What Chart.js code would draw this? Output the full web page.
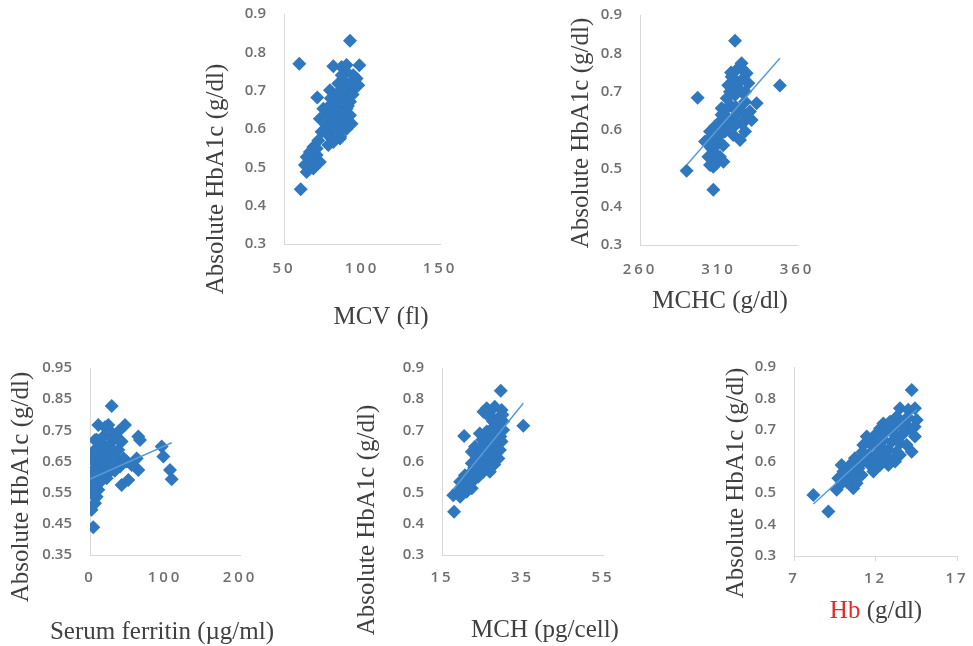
<!DOCTYPE html>
<html>
<head>
<meta charset="utf-8">
<script src="https://cdn.jsdelivr.net/npm/chart.js"></script>
<style>
  html, body { margin: 0; padding: 0; background: #fff; }
  #wrap { position: relative; width: 973px; height: 646px; }
  #wrap canvas { position: absolute; left: 0; top: 0; }
</style>
</head>
<body>
<div id="wrap">
  <canvas id="mcv" width="973" height="646"></canvas>
  <canvas id="mchc" width="973" height="646"></canvas>
  <canvas id="ferritin" width="973" height="646"></canvas>
  <canvas id="mch" width="973" height="646"></canvas>
  <canvas id="hb" width="973" height="646"></canvas>
</div>
<script>
// [x, absolute HbA1c] pairs
var mcvPoints = [[92.3,0.83],[59.8,0.77],[81.6,0.764],[98.3,0.766],[71.3,0.682],[60.7,0.443],
  [86.9,0.762],[90.1,0.749],[94.4,0.74],[97.6,0.714],[88,0.727],[84.8,0.719],[92.3,0.719],[79.5,0.701],
  [82.7,0.688],[75.2,0.653],[79.5,0.662],[83.7,0.671],[88,0.68],[92.3,0.671],[90.1,0.653],[85.9,0.645],
  [79.5,0.636],[73,0.627],[92.3,0.636],[93.3,0.614],[88,0.619],[81.6,0.619],[77.3,0.61],[74.1,0.593],
  [78.4,0.584],[84.8,0.593],[88,0.601],[81.6,0.566],[78.4,0.558],[85.9,0.575],[83.7,0.61],[68.8,0.553],
  [66.6,0.54],[64.5,0.527],[70.9,0.532],[73,0.514],[66.6,0.514],[63.4,0.506],[68.8,0.497],[64.5,0.488],
  [70.9,0.549],[90.1,0.767],[93.3,0.697],[96.5,0.732],[91.2,0.701],[90.1,0.627],[83.7,0.636],
  [86,0.7],[84,0.66],[86,0.62],[80,0.6],[76,0.63],[82,0.65],[89,0.71],[94,0.69],[95,0.72],[87,0.74],
  [91,0.66],[77,0.59],[72,0.57],[70,0.52],[67,0.53],[80,0.68],[90,0.6],[86,0.58]];

var mchcPoints = [[320.5,0.833],[296.7,0.684],[349.1,0.716],[289.7,0.494],[306.7,0.444],[313.1,0.517],
  [324.7,0.774],[321.5,0.757],[327.9,0.748],[318.4,0.739],[325.8,0.735],[316.2,0.717],[322.6,0.722],
  [329,0.722],[317.3,0.7],[324.7,0.7],[320.5,0.691],[315.2,0.683],[326.9,0.674],[334.3,0.67],[312,0.657],
  [318.4,0.661],[323.7,0.652],[330,0.648],[314.1,0.639],[320.5,0.635],[331.1,0.626],[310.9,0.622],
  [317.3,0.617],[324.7,0.617],[307.7,0.609],[304.6,0.596],[314.1,0.596],[326.9,0.596],[323.7,0.574],
  [319.4,0.587],[309.9,0.583],[303.5,0.574],[309.9,0.565],[305.6,0.552],[301.4,0.57],[307.7,0.539],
  [303.5,0.53],[310.9,0.53],[304.6,0.509],[308.8,0.513],[306.7,0.504],
  [319,0.72],[322,0.7],[327,0.7],[316,0.66],[321,0.66],[315,0.62],[320,0.61],[312,0.6],[307,0.58],
  [313,0.56],[306,0.53],[328,0.64],[326,0.62],[318,0.75],[325,0.76],[312,0.64]];

var ferritinPoints = [[28.9,0.828],[4.4,0.439],[46.7,0.767],[64.4,0.73],[66.7,0.719],[95.6,0.698],
  [97.8,0.666],[106.7,0.623],[108.9,0.593],[64.4,0.623],[62.2,0.66],[42.2,0.575],[51.1,0.591],[55.6,0.639],
  [11.1,0.767],[24.4,0.767],[37.8,0.746],[6.7,0.719],[17.8,0.73],[31.1,0.719],[42.2,0.714],[4.4,0.682],
  [15.6,0.687],[26.7,0.676],[37.8,0.687],[8.9,0.65],[20,0.655],[31.1,0.65],[40,0.634],[4.4,0.623],
  [15.6,0.623],[26.7,0.618],[2.2,0.591],[11.1,0.585],[22.2,0.596],[2.2,0.548],[8.9,0.537],[6.7,0.516],
  [2.2,0.495],[0,0.569],[11.1,0.559],[48.9,0.65],[20,0.7],[33,0.68],[13,0.61],[28,0.64],[5,0.65],
  [3,0.6],[7,0.58],[12,0.64],[18,0.66],[22,0.62],[25,0.7],[30,0.74],[35,0.66],[14,0.7],[9,0.72],
  [3,0.66],[5,0.54],[10,0.68],[33,0.62],[45,0.66],[38,0.72],[20,0.76],[8,0.62],[16,0.59]];

var mchPoints = [[29.6,0.827],[35.2,0.715],[20.5,0.682],[18,0.439],[17.8,0.492],
  [26.1,0.771],[28.1,0.776],[29.8,0.765],[26.9,0.749],[29.4,0.744],[27.7,0.728],[30.2,0.728],[25.3,0.76],
  [24.4,0.69],[26.1,0.696],[28.1,0.701],[30.2,0.701],[29,0.68],[26.9,0.669],[29.8,0.664],[27.7,0.653],
  [25.3,0.653],[23.2,0.647],[22.4,0.631],[24.4,0.631],[26.9,0.626],[29.4,0.637],[29,0.61],[26.1,0.61],
  [23.6,0.61],[22.4,0.594],[24.8,0.589],[27.3,0.594],[25.3,0.567],[22.8,0.567],[26.9,0.567],[24,0.551],
  [21.5,0.556],[20.7,0.556],[19.5,0.535],[21.5,0.53],[20.3,0.514],[22.4,0.514],[19,0.508],[21.1,0.503],
  [19.5,0.487],
  [27,0.74],[28.5,0.72],[27,0.7],[28,0.67],[25,0.67],[26,0.64],[28,0.62],[24,0.6],[26,0.58],[23,0.58],
  [21,0.54],[22.5,0.535],[20,0.52],[30,0.75],[28,0.59],[24.5,0.57],[29.5,0.68]];

var hbPoints = [[14.22,0.827],[8.19,0.494],[9.11,0.441],[9.62,0.51],[9.92,0.589],[14.22,0.631],
  [13.5,0.769],[14.01,0.764],[14.42,0.769],[13.3,0.742],[13.91,0.737],[14.53,0.732],[12.89,0.726],
  [13.5,0.716],[12.48,0.721],[14.12,0.705],[14.42,0.679],[13.71,0.689],[13.2,0.684],[12.68,0.695],
  [12.28,0.705],[11.46,0.679],[11.97,0.684],[12.48,0.668],[12.99,0.663],[13.5,0.658],[13.91,0.652],
  [11.25,0.652],[11.76,0.652],[12.28,0.647],[12.79,0.637],[13.3,0.631],[11.56,0.621],[12.07,0.615],
  [12.58,0.61],[13.09,0.605],[13.5,0.621],[10.74,0.61],[11.25,0.6],[10.44,0.589],[10.95,0.578],
  [11.66,0.589],[12.28,0.589],[12.79,0.589],[10.03,0.568],[10.54,0.557],[11.15,0.557],[11.87,0.568],
  [10.23,0.536],[10.84,0.531],[9.72,0.547],[9.92,0.531],[10.64,0.515],
  [13,0.7],[13.8,0.71],[12.5,0.69],[11.8,0.66],[12.2,0.63],[11.2,0.63],[12.8,0.61],[13.3,0.68],
  [10.8,0.57],[11.5,0.6],[10.4,0.55],[11,0.6],[12.5,0.64],[14.4,0.71],[14,0.74],[11.9,0.6],[13.2,0.6]];

// linear trendline end points
var mchcTrend = [[289.7,0.509],[349.1,0.787]];
var ferritinTrend = [[0,0.594],[109,0.71]];
var mchTrend = [[17.8,0.51],[35.2,0.787]];
var hbTrend = [[8.19,0.465],[14.53,0.765]];

var yTitle = 'Absolute HbA1c (g/dl)';

var W = 973, H = 646;
var Y_W = 70, X_H = 40;
var POINT_COLOR = '#2f78c0';
var TREND_COLOR = '#5b9bd5';
var AXIS_COLOR = '#d9d9d9';
var TICK_COLOR = '#6f6f6f';
var TITLE_COLOR = '#404040';
var tickFont = { family: "'Open Sans', 'Liberation Sans', sans-serif", size: 15, weight: '600' };

function pts(list) {
  return list.map(function (p) { return { x: p[0], y: p[1] }; });
}

// x tick labels are spaced out; they are drawn after the datasets (ticks.z = 1)
var spacingPlugin = {
  id: 'tickSpacing',
  beforeDraw: function (chart) { chart.ctx.letterSpacing = '0px'; },
  afterDatasetsDraw: function (chart) { chart.ctx.letterSpacing = '3px'; }
};

function titlePlugin(cfg) {
  return {
    id: 'axisTitles',
    afterDraw: function (chart) {
      var ctx = chart.ctx;
      ctx.save();
      ctx.letterSpacing = '0px';
      ctx.font = '25px "Liberation Serif", "Times New Roman", serif';
      ctx.textBaseline = 'middle';
      ctx.textAlign = 'left';
      var total = 0;
      cfg.xTitle.forEach(function (p) { total += ctx.measureText(p[0]).width; });
      var cx = cfg.xTitlePos[0] - total / 2;
      cfg.xTitle.forEach(function (p) {
        ctx.fillStyle = p[1];
        ctx.fillText(p[0], cx, cfg.xTitlePos[1]);
        cx += ctx.measureText(p[0]).width;
      });
      ctx.translate(cfg.yTitlePos[0], cfg.yTitlePos[1]);
      ctx.rotate(-Math.PI / 2);
      ctx.textAlign = 'center';
      ctx.fillStyle = TITLE_COLOR;
      ctx.fillText(yTitle, 0, 0);
      ctx.restore();
    }
  };
}

function fixSize(size) {
  return function (s) {
    if (s.isHorizontal()) s.height = size; else s.width = size;
    s.paddingLeft = 0; s.paddingRight = 0; s.paddingTop = 0; s.paddingBottom = 0;
  };
}

function makeChart(id, cfg) {
  var a = cfg.area;
  var datasets = [];
  if (cfg.trend) {
    datasets.push({ data: pts(cfg.trend), showLine: true, borderColor: TREND_COLOR, borderWidth: 1.5,
      pointRadius: 0, pointHoverRadius: 0, order: 0 });
  }
  datasets.push({ data: pts(cfg.points), pointStyle: 'rectRot', pointRadius: 7, pointHoverRadius: 7,
    backgroundColor: POINT_COLOR, borderWidth: 0, order: 1 });

  return new Chart(document.getElementById(id), {
    type: 'scatter',
    data: { datasets: datasets },
    options: {
      responsive: false,
      animation: false,
      events: [],
      layout: { padding: { left: a.left - Y_W, top: a.top, right: W - a.right, bottom: H - a.bottom - X_H } },
      plugins: { legend: { display: false }, tooltip: { enabled: false } },
      scales: {
        x: {
          type: 'linear', min: cfg.x[0], max: cfg.x[1],
          grid: { display: !!cfg.xTickMarks, drawOnChartArea: false, drawTicks: !!cfg.xTickMarks,
            tickLength: 5, color: AXIS_COLOR },
          border: { color: AXIS_COLOR, width: 1 },
          ticks: { stepSize: cfg.x[2], padding: cfg.xPad, z: 1, font: tickFont, color: TICK_COLOR,
            maxRotation: 0 },
          afterFit: fixSize(X_H)
        },
        y: {
          type: 'linear', min: cfg.y[0], max: cfg.y[1],
          grid: { display: false, drawTicks: false },
          border: { color: AXIS_COLOR, width: 1 },
          ticks: { stepSize: 0.1, padding: 18, font: tickFont, color: TICK_COLOR,
            callback: function (v) { return v.toFixed(cfg.yDec); } },
          afterFit: fixSize(Y_W)
        }
      }
    },
    plugins: [spacingPlugin, titlePlugin(cfg)]
  });
}

makeChart('mcv', {
  points: mcvPoints, area: { left: 284, top: 14, right: 440, bottom: 244 },
  x: [50, 150, 50], y: [0.3, 0.9], yDec: 1, xPad: 16,
  xTitle: [['MCV (fl)', TITLE_COLOR]], xTitlePos: [381, 317], yTitlePos: [216, 179]
});
makeChart('mchc', {
  points: mchcPoints, trend: mchcTrend, area: { left: 640, top: 15, right: 797, bottom: 245 },
  x: [260, 360, 50], y: [0.3, 0.9], yDec: 1, xPad: 16,
  xTitle: [['MCHC (g/dl)', TITLE_COLOR]], xTitlePos: [720, 301], yTitlePos: [581, 133]
});
makeChart('ferritin', {
  points: ferritinPoints, trend: ferritinTrend, area: { left: 90, top: 368, right: 240, bottom: 555 },
  x: [0, 200, 100], y: [0.35, 0.95], yDec: 2, xPad: 14,
  xTitle: [['Serum ferritin (\u00b5g/ml)', TITLE_COLOR]], xTitlePos: [162, 632], yTitlePos: [21, 487]
});
makeChart('mch', {
  points: mchPoints, trend: mchTrend, area: { left: 442, top: 368, right: 603, bottom: 555 },
  x: [15, 55, 20], y: [0.3, 0.9], yDec: 1, xPad: 14,
  xTitle: [['MCH (pg/cell)', TITLE_COLOR]], xTitlePos: [545, 630], yTitlePos: [367, 520]
});
makeChart('hb', {
  points: hbPoints, trend: hbTrend, area: { left: 794, top: 367, right: 957, bottom: 556 },
  x: [7, 17, 5], y: [0.3, 0.9], yDec: 1, xPad: 9, xTickMarks: true,
  xTitle: [['Hb', '#e02b2b'], [' (g/dl)', TITLE_COLOR]], xTitlePos: [876, 611], yTitlePos: [736, 483]
});
</script>
</body>
</html>
